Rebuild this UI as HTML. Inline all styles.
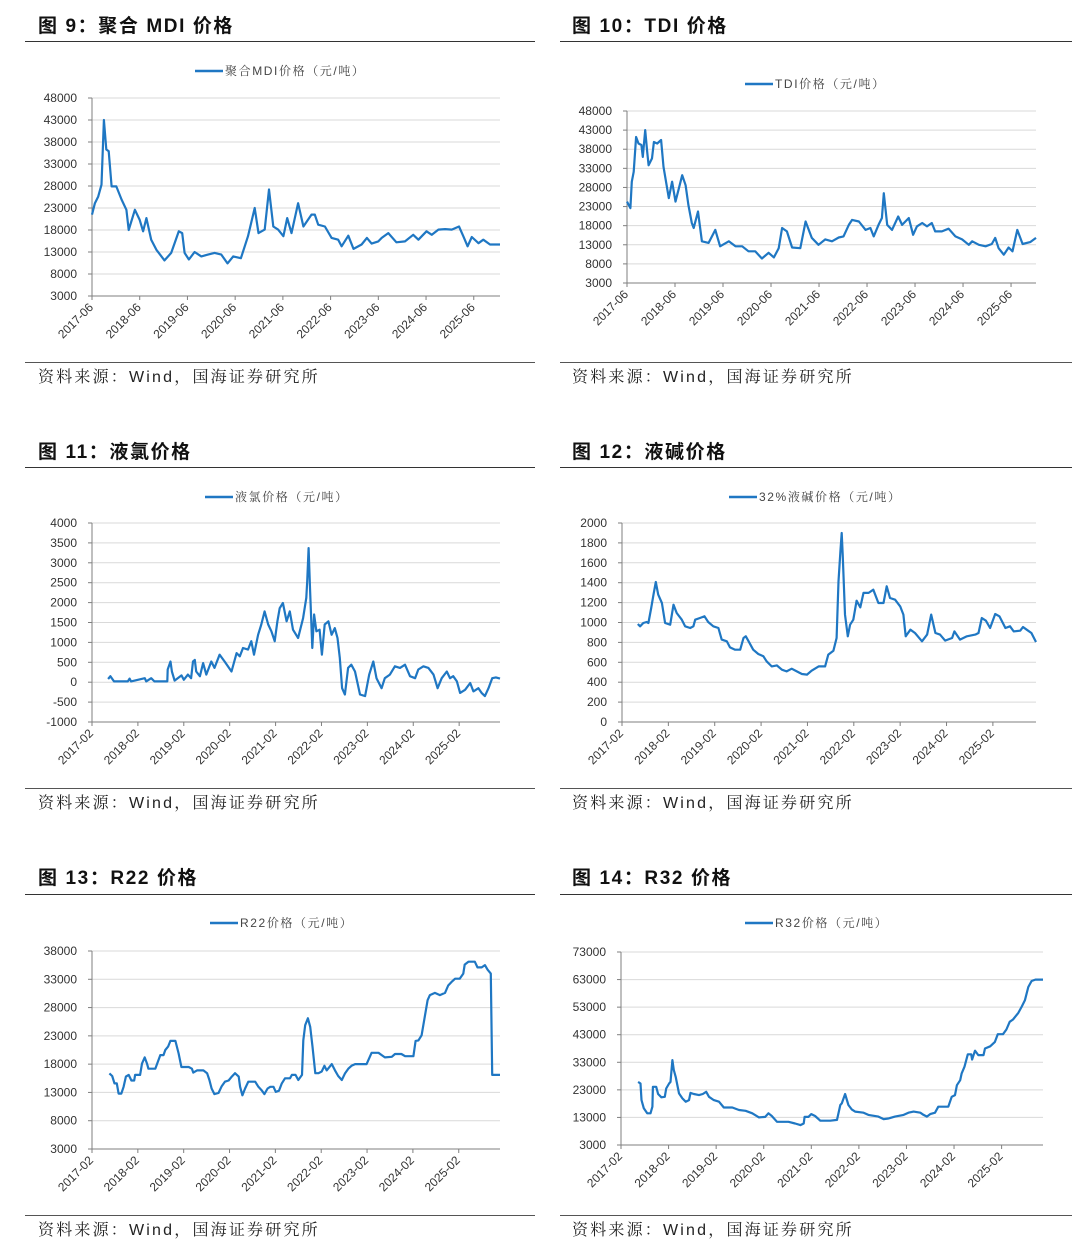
<!DOCTYPE html>
<html><head><meta charset="utf-8">
<style>
body{margin:0;background:#fff;}
svg{display:block;font-family:"Liberation Sans","Noto Sans CJK SC",sans-serif;}
.title{font-size:19px;font-weight:bold;fill:#111;letter-spacing:1.6px;}
.src{font-size:16px;fill:#222;letter-spacing:2.2px;font-family:"Liberation Sans","Noto Serif CJK SC",serif;}
.leg{font-size:12px;fill:#444;letter-spacing:1.6px;font-family:"Liberation Sans","Noto Serif CJK SC",serif;}
.tick{font-size:12px;fill:#333;}
</style></head>
<body>
<svg id="page" width="1080" height="1247" viewBox="0 0 1080 1247" xmlns="http://www.w3.org/2000/svg">
<g id="frame">
<text class="title" x="38" y="32">图 9：聚合 MDI 价格</text>
<text class="title" x="572" y="32">图 10：TDI 价格</text>
<text class="title" x="38" y="458">图 11：液氯价格</text>
<text class="title" x="572" y="458">图 12：液碱价格</text>
<text class="title" x="38" y="884">图 13：R22 价格</text>
<text class="title" x="572" y="884">图 14：R32 价格</text>
<line x1="25" y1="41.5" x2="535" y2="41.5" stroke="#333"/>
<line x1="560" y1="41.5" x2="1072" y2="41.5" stroke="#333"/>
<line x1="25" y1="467.5" x2="535" y2="467.5" stroke="#333"/>
<line x1="560" y1="467.5" x2="1072" y2="467.5" stroke="#333"/>
<line x1="25" y1="894.5" x2="535" y2="894.5" stroke="#333"/>
<line x1="560" y1="894.5" x2="1072" y2="894.5" stroke="#333"/>
<line x1="25" y1="362.5" x2="535" y2="362.5" stroke="#555"/>
<line x1="560" y1="362.5" x2="1072" y2="362.5" stroke="#555"/>
<line x1="25" y1="788.5" x2="535" y2="788.5" stroke="#555"/>
<line x1="560" y1="788.5" x2="1072" y2="788.5" stroke="#555"/>
<line x1="25" y1="1215.5" x2="535" y2="1215.5" stroke="#555"/>
<line x1="560" y1="1215.5" x2="1072" y2="1215.5" stroke="#555"/>
<text class="src" x="38" y="382">资料来源：Wind，国海证券研究所</text>
<text class="src" x="572" y="382">资料来源：Wind，国海证券研究所</text>
<text class="src" x="38" y="808">资料来源：Wind，国海证券研究所</text>
<text class="src" x="572" y="808">资料来源：Wind，国海证券研究所</text>
<text class="src" x="38" y="1235">资料来源：Wind，国海证券研究所</text>
<text class="src" x="572" y="1235">资料来源：Wind，国海证券研究所</text>
</g>
</svg>
<script>
// ---- Fig 9 MDI ----
const mdiDates=[2017.50,2017.56,2017.63,2017.70,2017.75,2017.80,2017.85,2017.91,2018.01,2018.12,2018.22,2018.27,2018.40,2018.50,2018.57,2018.64,2018.74,2018.85,2019.02,2019.16,2019.23,2019.32,2019.39,2019.44,2019.53,2019.65,2019.79,2019.93,2020.07,2020.21,2020.34,2020.46,2020.62,2020.77,2020.91,2020.99,2021.12,2021.21,2021.30,2021.40,2021.51,2021.59,2021.68,2021.82,2021.93,2022.10,2022.17,2022.24,2022.38,2022.52,2022.66,2022.73,2022.87,2022.98,2023.15,2023.26,2023.36,2023.50,2023.57,2023.71,2023.88,2024.06,2024.23,2024.34,2024.51,2024.62,2024.76,2024.90,2025.04,2025.19,2025.28,2025.37,2025.46,2025.60,2025.70,2025.84,2026.05];
const mdiValues=[21500,24100,25600,28300,43000,36300,35900,27900,27900,24900,22600,18000,22600,20300,17700,20700,15800,13500,11100,12800,15000,17700,17300,12800,11300,13000,12000,12400,12800,12400,10400,12000,11600,16600,23000,17300,18100,27200,18800,18100,16600,20700,17300,24100,18800,21500,21500,19200,18800,16200,15800,14300,16700,13700,14700,16200,14900,15400,16200,17300,15200,15400,16900,15800,17700,16900,18100,18200,18100,18800,16600,14300,16400,15000,15800,14700,14700];
const mdiTicks=[3000,8000,13000,18000,23000,28000,33000,38000,43000,48000];
const mdiXLabels=["2017-06","2018-06","2019-06","2020-06","2021-06","2022-06","2023-06","2024-06","2025-06"];
const mdiXPos=[2017.5,2018.5,2019.5,2020.5,2021.5,2022.5,2023.5,2024.5,2025.5];
// ---- Fig 10 TDI ----
const tdiDates=[2017.50,2017.57,2017.60,2017.64,2017.69,2017.74,2017.80,2017.83,2017.88,2017.92,2017.95,2018.02,2018.06,2018.13,2018.21,2018.26,2018.37,2018.44,2018.51,2018.65,2018.72,2018.78,2018.85,2018.89,2018.98,2019.06,2019.20,2019.34,2019.44,2019.62,2019.76,2019.90,2020.03,2020.17,2020.31,2020.45,2020.56,2020.66,2020.73,2020.83,2020.94,2021.11,2021.22,2021.35,2021.49,2021.63,2021.77,2021.91,2022.01,2022.12,2022.19,2022.33,2022.47,2022.57,2022.64,2022.74,2022.81,2022.85,2022.92,2023.02,2023.15,2023.23,2023.37,2023.46,2023.54,2023.65,2023.75,2023.85,2023.92,2024.06,2024.20,2024.34,2024.48,2024.62,2024.69,2024.83,2024.97,2025.10,2025.17,2025.24,2025.35,2025.45,2025.53,2025.63,2025.74,2025.90,2026.02];
const tdiValues=[24300,22600,29500,32100,41200,39500,39100,36000,43000,37300,33800,35600,39900,39500,40400,33400,25200,29500,24300,31200,28600,23400,18700,17400,21700,13900,13500,16900,12600,13900,12600,12600,11300,11300,9400,10900,9700,12100,17400,16500,12300,12100,19100,14800,13000,14400,13900,14900,15200,18200,19500,19100,16900,17400,15200,18200,20000,26500,18200,16900,20400,18200,20000,15600,17800,18700,17800,18700,16500,16500,17200,15200,14400,13000,13900,13000,12600,13200,14800,12100,10400,12300,11300,16900,13200,13700,14800];
const tdiTicks=[3000,8000,13000,18000,23000,28000,33000,38000,43000,48000];
const tdiXLabels=["2017-06","2018-06","2019-06","2020-06","2021-06","2022-06","2023-06","2024-06","2025-06"];
const tdiXPos=[2017.5,2018.5,2019.5,2020.5,2021.5,2022.5,2023.5,2024.5,2025.5];
// ---- Fig 11 Liquid chlorine ----
const clDates=[2017.45,2017.50,2017.58,2017.88,2017.92,2017.95,2018.25,2018.28,2018.39,2018.46,2018.74,2018.75,2018.81,2018.84,2018.90,2019.05,2019.10,2019.19,2019.26,2019.30,2019.34,2019.37,2019.45,2019.52,2019.59,2019.70,2019.77,2019.88,2019.99,2020.14,2020.25,2020.32,2020.39,2020.50,2020.57,2020.63,2020.72,2020.79,2020.86,2020.94,2021.01,2021.08,2021.14,2021.19,2021.26,2021.34,2021.41,2021.48,2021.59,2021.70,2021.77,2021.79,2021.82,2021.85,2021.90,2021.94,2021.99,2022.06,2022.11,2022.17,2022.25,2022.32,2022.39,2022.45,2022.50,2022.55,2022.61,2022.68,2022.75,2022.83,2022.94,2023.05,2023.14,2023.23,2023.30,2023.41,2023.48,2023.59,2023.70,2023.81,2023.92,2024.03,2024.14,2024.21,2024.32,2024.43,2024.54,2024.63,2024.72,2024.83,2024.90,2024.97,2025.05,2025.12,2025.23,2025.34,2025.41,2025.52,2025.59,2025.66,2025.74,2025.82,2025.90,2025.99];
const clValues=[80,150,20,20,90,20,100,20,100,20,20,320,520,270,40,170,60,190,100,520,560,270,150,480,190,520,360,690,520,270,730,650,860,820,1030,690,1190,1450,1780,1450,1280,1030,1530,1860,1990,1530,1780,1320,1110,1610,2120,2530,3370,2370,860,1700,1280,1320,690,1450,1530,1190,1360,1110,610,-150,-310,360,440,270,-310,-350,190,520,100,-150,100,190,400,360,440,150,100,320,400,360,190,-150,100,270,100,150,20,-270,-190,-20,-230,-150,-270,-350,-150,100,120,90];
const clTicks=[-1000,-500,0,500,1000,1500,2000,2500,3000,3500,4000];
const clXLabels=["2017-02","2018-02","2019-02","2020-02","2021-02","2022-02","2023-02","2024-02","2025-02"];
const clXPos=[2017.1,2018.1,2019.1,2020.1,2021.1,2022.1,2023.1,2024.1,2025.1];
// ---- Fig 12 Caustic soda ----
const naDates=[2017.44,2017.49,2017.56,2017.63,2017.67,2017.73,2017.78,2017.83,2017.88,2017.96,2018.03,2018.14,2018.21,2018.28,2018.39,2018.46,2018.57,2018.64,2018.68,2018.78,2018.88,2018.96,2019.07,2019.18,2019.25,2019.36,2019.43,2019.54,2019.65,2019.72,2019.77,2019.83,2019.93,2020.04,2020.15,2020.22,2020.33,2020.44,2020.55,2020.65,2020.76,2020.87,2020.98,2021.09,2021.19,2021.34,2021.48,2021.55,2021.66,2021.73,2021.77,2021.81,2021.84,2021.86,2021.91,2021.97,2022.02,2022.09,2022.16,2022.24,2022.31,2022.42,2022.52,2022.63,2022.74,2022.81,2022.88,2022.99,2023.10,2023.17,2023.22,2023.32,2023.42,2023.57,2023.68,2023.77,2023.86,2023.96,2024.07,2024.22,2024.27,2024.39,2024.54,2024.72,2024.79,2024.86,2024.95,2025.04,2025.15,2025.24,2025.37,2025.47,2025.55,2025.69,2025.75,2025.83,2025.93,2026.03];
const naValues=[985,962,995,1005,995,1146,1280,1407,1280,1196,995,978,1179,1095,1028,962,945,962,1028,1045,1062,1005,962,945,828,811,750,727,727,844,861,811,727,683,660,610,559,569,526,509,536,509,482,476,516,559,559,677,717,844,1414,1715,1900,1682,1079,861,978,1028,1219,1152,1297,1297,1330,1196,1196,1364,1246,1229,1162,1079,861,928,894,811,878,1079,894,878,818,844,911,828,861,878,894,1045,1018,945,1085,1062,945,962,911,918,955,928,894,804];
const naTicks=[0,200,400,600,800,1000,1200,1400,1600,1800,2000];
const naXLabels=["2017-02","2018-02","2019-02","2020-02","2021-02","2022-02","2023-02","2024-02","2025-02"];
const naXPos=[2017.1,2018.1,2019.1,2020.1,2021.1,2022.1,2023.1,2024.1,2025.1];
// ---- Fig 13 R22 ----
const r22Dates=[2017.48,2017.54,2017.59,2017.64,2017.68,2017.74,2017.79,2017.84,2017.90,2017.96,2018.02,2018.04,2018.15,2018.19,2018.25,2018.30,2018.33,2018.48,2018.59,2018.66,2018.70,2018.76,2018.81,2018.92,2018.99,2019.05,2019.21,2019.28,2019.31,2019.39,2019.53,2019.61,2019.66,2019.71,2019.77,2019.86,2019.93,2020.00,2020.08,2020.15,2020.22,2020.30,2020.33,2020.38,2020.44,2020.51,2020.66,2020.73,2020.80,2020.86,2020.93,2020.99,2021.06,2021.11,2021.18,2021.24,2021.31,2021.42,2021.46,2021.54,2021.60,2021.68,2021.71,2021.75,2021.81,2021.86,2021.91,2021.97,2022.04,2022.11,2022.17,2022.22,2022.33,2022.40,2022.47,2022.55,2022.62,2022.69,2022.76,2022.84,2022.98,2023.09,2023.20,2023.35,2023.42,2023.49,2023.64,2023.71,2023.85,2023.93,2024.11,2024.16,2024.22,2024.29,2024.36,2024.42,2024.47,2024.58,2024.69,2024.80,2024.87,2024.94,2025.02,2025.12,2025.20,2025.23,2025.31,2025.45,2025.51,2025.60,2025.67,2025.73,2025.80,2025.83,2026.00];
const r22Values=[16360,15900,14600,14600,12800,12800,14000,15800,16100,15100,15100,16100,16100,18100,19200,18100,17200,17200,19600,19600,20500,21100,22100,22100,19900,17500,17500,17200,16500,16900,16900,16400,15200,13700,12700,12900,14100,14900,15100,15800,16400,15800,14000,12500,13700,14900,14900,14000,13400,12700,13700,14000,14000,13100,13300,14600,15500,15500,16100,16100,15200,16100,22200,24900,26100,24600,21100,16400,16400,16700,17700,16900,18000,16900,15900,15200,16400,17200,17700,18000,18000,18000,20000,20000,19600,19200,19300,19800,19800,19400,19400,22100,22200,23100,26400,29300,30200,30600,30200,30600,31900,32500,33100,33100,34000,35600,36100,36100,35100,35100,35500,34700,34000,16100,16100];
const r22Ticks=[3000,8000,13000,18000,23000,28000,33000,38000];
const r22XLabels=["2017-02","2018-02","2019-02","2020-02","2021-02","2022-02","2023-02","2024-02","2025-02"];
const r22XPos=[2017.1,2018.1,2019.1,2020.1,2021.1,2022.1,2023.1,2024.1,2025.1];
// ---- Fig 14 R32 ----
const r32Dates=[2017.46,2017.51,2017.53,2017.58,2017.65,2017.72,2017.76,2017.77,2017.84,2017.88,2017.95,2018.02,2018.05,2018.11,2018.14,2018.18,2018.21,2018.25,2018.32,2018.39,2018.46,2018.53,2018.56,2018.63,2018.74,2018.82,2018.89,2018.95,2019.05,2019.16,2019.26,2019.44,2019.58,2019.72,2019.86,2020.00,2020.13,2020.20,2020.27,2020.38,2020.62,2020.76,2020.87,2020.94,2020.96,2021.04,2021.10,2021.18,2021.29,2021.50,2021.64,2021.71,2021.74,2021.81,2021.88,2021.95,2022.02,2022.20,2022.30,2022.51,2022.62,2022.72,2022.86,2023.04,2023.14,2023.25,2023.39,2023.46,2023.53,2023.60,2023.70,2023.77,2023.88,2023.98,2024.05,2024.12,2024.16,2024.23,2024.26,2024.32,2024.39,2024.46,2024.48,2024.54,2024.61,2024.72,2024.75,2024.86,2024.96,2025.02,2025.13,2025.20,2025.27,2025.34,2025.45,2025.52,2025.59,2025.66,2025.73,2025.81,2025.97];
const r32Values=[25900,25300,19300,16300,14500,14500,16900,24100,24100,21500,20300,20500,23500,25300,25900,33800,30200,27700,21700,19900,18700,19300,21900,21500,21100,21500,22300,20500,19300,18700,16600,16600,15700,15400,14500,13000,13200,14500,13500,11400,11400,10800,10200,10800,13200,13200,14200,13500,11800,11800,12100,17500,18100,21500,17500,15900,15100,14700,13900,13300,12400,12600,13300,13900,14700,15100,14700,13900,13300,14200,14700,16900,16900,16900,20500,21100,24700,26500,28900,31400,35900,35900,34000,37200,35600,35600,38000,38800,40400,43200,43200,44900,47700,48500,50900,53100,55500,60300,62500,63000,63000];
const r32Ticks=[3000,13000,23000,33000,43000,53000,63000,73000];
const r32XLabels=["2017-02","2018-02","2019-02","2020-02","2021-02","2022-02","2023-02","2024-02","2025-02"];
const r32XPos=[2017.1,2018.1,2019.1,2020.1,2021.1,2022.1,2023.1,2024.1,2025.1];

const NS="http://www.w3.org/2000/svg";
const svg=document.getElementById('page');
function mk(tag,attrs,parent){const e=document.createElementNS(NS,tag);for(const k in attrs)e.setAttribute(k,attrs[k]);(parent||svg).appendChild(e);return e;}

function drawChart(id,box,dates,values,ticks,xLabels,xPos,legend){
  const g=mk('g',{});
  
  
  const ymin=ticks[0],ymax=ticks[ticks.length-1];
  const X=t=>box.x0+(t-box.t0)/(box.t1-box.t0)*(box.x1-box.x0);
  const Y=v=>box.y1-(v-ymin)/(ymax-ymin)*(box.y1-box.y0);
  ticks.forEach(t=>{
    const y=Y(t);
    if(t!==ymin){const gl=mk('line',{x1:box.x0,x2:box.x1,y1:y,y2:y,stroke:'#d9d9d9','stroke-width':1},g);
    
    }
    mk('line',{x1:box.x0-4,x2:box.x0,y1:y,y2:y,stroke:'#7f7f7f'},g);
    const tl=mk('text',{x:box.x0-15,y:y+4,'text-anchor':'end','class':'tick'},g);
    tl.textContent=t;
    
    
  });
  const ya=mk('line',{x1:box.x0,x2:box.x0,y1:box.y0,y2:box.y1,stroke:'#7f7f7f'},g);
  
  
  const xa=mk('line',{x1:box.x0,x2:box.x1,y1:box.y1,y2:box.y1,stroke:'#7f7f7f'},g);
  
  
  xLabels.forEach((lab,i)=>{
    const x=X(xPos[i]);
    mk('line',{x1:x,x2:x,y1:box.y1,y2:box.y1+4,stroke:'#7f7f7f'},g);
    const tl=mk('text',{x:x+2,y:box.y1+12,'text-anchor':'end','class':'tick',transform:`rotate(-45 ${x+2} ${box.y1+12})`,'font-size':'11'},g);
    tl.textContent=lab;
    
    
  });
  let d='';
  dates.forEach((t,i)=>{d+=(i?'L':'M')+X(t).toFixed(1)+','+Y(values[i]).toFixed(1);});
  const p=mk('path',{d:d,fill:'none',stroke:'#1f77c3','stroke-width':2.2,'stroke-linejoin':'round'},g);
  
  
  const ll=mk('line',{x1:legend.x,x2:legend.x+28,y1:legend.y,y2:legend.y,stroke:'#1f77c3','stroke-width':2.5},g);
  
  
  const lt=mk('text',{x:legend.x+30,y:legend.y+4,'class':'leg'},g);
  lt.textContent=legend.text;
  
  
}

drawChart('fig9-mdi',{x0:92,x1:500,y0:98,y1:296,t0:2017.5,t1:2026.05},mdiDates,mdiValues,mdiTicks,mdiXLabels,mdiXPos,{x:195,y:71,text:'聚合MDI价格（元/吨）'});
drawChart('fig10-tdi',{x0:627,x1:1036,y0:111,y1:283,t0:2017.5,t1:2026.02},tdiDates,tdiValues,tdiTicks,tdiXLabels,tdiXPos,{x:745,y:84,text:'TDI价格（元/吨）'});
drawChart('fig11-chlorine',{x0:92,x1:500,y0:523,y1:722,t0:2017.1,t1:2025.99},clDates,clValues,clTicks,clXLabels,clXPos,{x:205,y:497,text:'液氯价格（元/吨）'});
drawChart('fig12-caustic',{x0:622,x1:1036,y0:523,y1:722,t0:2017.1,t1:2026.03},naDates,naValues,naTicks,naXLabels,naXPos,{x:729,y:497,text:'32%液碱价格（元/吨）'});
drawChart('fig13-r22',{x0:92,x1:500,y0:951,y1:1149,t0:2017.1,t1:2026.0},r22Dates,r22Values,r22Ticks,r22XLabels,r22XPos,{x:210,y:923,text:'R22价格（元/吨）'});
drawChart('fig14-r32',{x0:621,x1:1043,y0:952,y1:1145,t0:2017.1,t1:2025.97},r32Dates,r32Values,r32Ticks,r32XLabels,r32XPos,{x:745,y:923,text:'R32价格（元/吨）'});
</script>
</body></html>
